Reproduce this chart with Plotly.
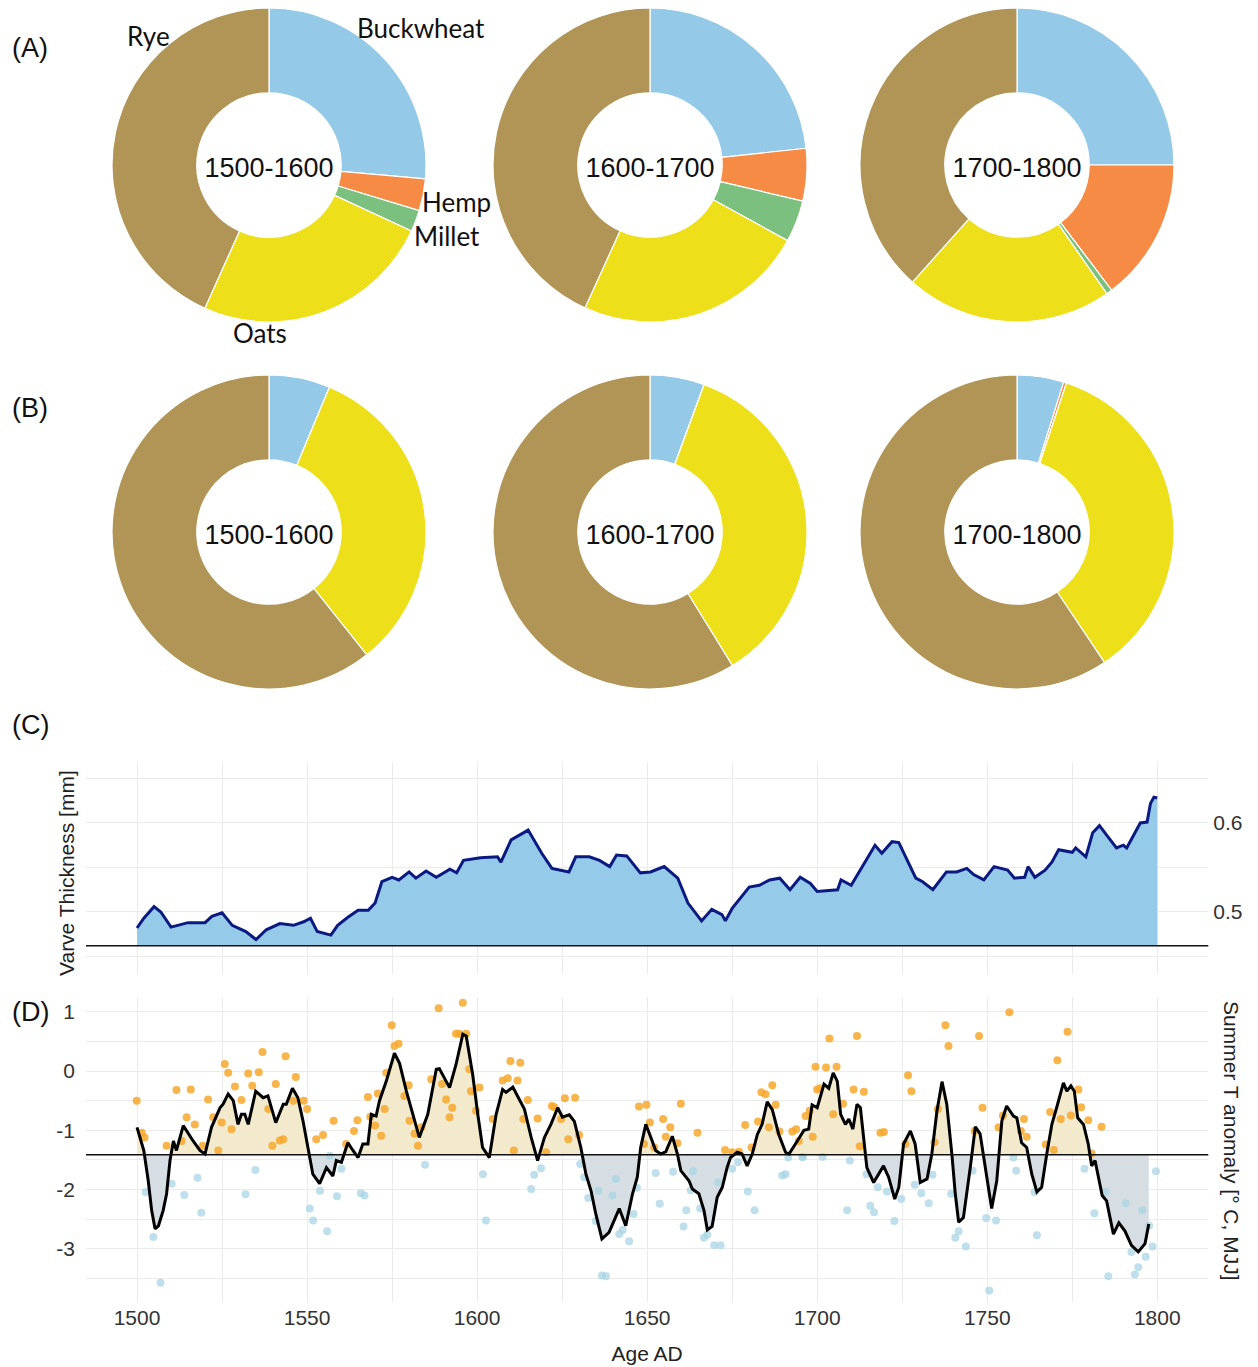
import plotly.graph_objects as go

W, H = 1258, 1367

# ---------------- data ----------------
crops = ["Buckwheat", "Hemp", "Millet", "Oats", "Rye"]
crop_colors = ["#94CAE7", "#F58B45", "#7CC07F", "#EEDF1B", "#B09557"]
periods = ["1500-1600", "1600-1700", "1700-1800"]

shares_A = [
    [26.4, 3.3, 2.2, 24.8, 43.3],
    [23.3, 5.4, 4.3, 23.8, 43.2],
    [25.0, 14.7, 0.6, 21.3, 38.4],
]
shares_B = [
    [6.3, 0.0, 0.0, 33.0, 60.7],
    [5.6, 0.0, 0.0, 35.6, 58.8],
    [4.8, 0.3, 0.0, 35.5, 59.4],
]

varve_years = [1500, 1502, 1505, 1507, 1510, 1515, 1520, 1522, 1525, 1528, 1532, 1535, 1538, 1542,
               1546, 1549, 1551, 1553, 1557, 1559, 1562, 1565, 1568, 1570, 1572, 1575, 1577, 1580,
               1582, 1585, 1588, 1592, 1594, 1596, 1601, 1606, 1607, 1610, 1615, 1619, 1622, 1627,
               1629, 1633, 1636, 1639, 1641, 1644, 1648, 1651, 1655, 1659, 1662, 1666, 1669, 1672,
               1673, 1675, 1680, 1683, 1686, 1689, 1692, 1695, 1698, 1700, 1706, 1707, 1710, 1713,
               1717, 1719, 1722, 1724, 1726, 1729, 1731, 1734, 1735, 1738, 1741, 1744, 1746, 1749,
               1752, 1756, 1758, 1761, 1762, 1764, 1767, 1769, 1771, 1775, 1776, 1779, 1781, 1783,
               1785, 1788, 1790, 1791, 1792, 1795, 1797, 1798, 1799, 1800]
varve_mm = [0.482, 0.493, 0.506, 0.500, 0.483, 0.488, 0.488, 0.495, 0.499, 0.485, 0.478, 0.469, 0.480, 0.487,
            0.485, 0.489, 0.493, 0.478, 0.474, 0.485, 0.494, 0.502, 0.502, 0.510, 0.534, 0.539, 0.536, 0.545,
            0.538, 0.546, 0.539, 0.548, 0.544, 0.558, 0.561, 0.562, 0.556, 0.581, 0.592, 0.566, 0.549, 0.545,
            0.562, 0.562, 0.558, 0.551, 0.564, 0.563, 0.544, 0.545, 0.551, 0.538, 0.510, 0.490, 0.503, 0.497,
            0.490, 0.504, 0.528, 0.530, 0.536, 0.538, 0.525, 0.539, 0.532, 0.523, 0.525, 0.536, 0.530, 0.549,
            0.575, 0.566, 0.579, 0.578, 0.562, 0.538, 0.534, 0.525, 0.530, 0.545, 0.545, 0.549, 0.542, 0.536,
            0.551, 0.547, 0.538, 0.539, 0.551, 0.539, 0.547, 0.556, 0.570, 0.567, 0.572, 0.562, 0.589, 0.597,
            0.587, 0.572, 0.575, 0.572, 0.579, 0.600, 0.601, 0.622, 0.629, 0.628]
varve_base = 0.462

smooth_years = [1500, 1501.4, 1502, 1503.3, 1504.3, 1505.3, 1506.3, 1507.7, 1508.7, 1509.7, 1510.7, 1511.6,
                1513.6, 1516.5, 1518.5, 1520, 1521.9, 1524.4, 1525.3, 1526.8, 1528.3, 1529.7, 1530.7, 1531.7,
                1532.7, 1534.9, 1537.1, 1538.5, 1540.8, 1543, 1543.9, 1545.7, 1547.3, 1548.8, 1550.3, 1551.7,
                1553.7, 1555.7, 1557.6, 1558.6, 1560.1, 1562, 1563.5, 1565, 1566.4, 1567.9, 1568.9, 1570.3,
                1571.3, 1573.3, 1575.7, 1577.2, 1579.2, 1581.1, 1583, 1585.5, 1588, 1588.9, 1591.9, 1593.8,
                1595.8, 1596.8, 1598.7, 1600.2, 1601.6, 1603.6, 1605.6, 1607.5, 1608.5, 1610.5, 1613.9, 1615.9,
                1617.8, 1619.8, 1621.7, 1623.7, 1625.1, 1627.1, 1628.6, 1630.5, 1632, 1633.5, 1634.9, 1636.7,
                1638.8, 1641.8, 1643.7, 1645.7, 1647.1, 1648.1, 1649.6, 1651.1, 1652.5, 1654, 1655.5, 1657.4,
                1658.9, 1659.9, 1662.3, 1663.3, 1665.2, 1666.7, 1667.7, 1669.1, 1670.6, 1672.1, 1673.5, 1674.5,
                1676.5, 1677.9, 1679.4, 1680.9, 1682.4, 1683.8, 1685.3, 1686.8, 1688.7, 1690.7, 1691.7, 1693.6,
                1696.1, 1697.5, 1698.5, 1700, 1702, 1703.4, 1704.7, 1705.9, 1706.9, 1708.3, 1709.3, 1710.5,
                1711.7, 1712.7, 1714.6, 1716.6, 1719.5, 1721, 1722.8, 1724, 1725.4, 1727.4, 1728.8, 1730.3,
                1732.3, 1733.7, 1735.2, 1736.7, 1738.1, 1739.6, 1740.6, 1741.6, 1743, 1745, 1746.5, 1747.9,
                1749.4, 1751.3, 1752.8, 1754.3, 1755.7, 1757.7, 1758.7, 1760.1, 1761.6, 1763.1, 1764.6, 1766,
                1767.5, 1769, 1770.4, 1772.4, 1773.4, 1774.6, 1775.6, 1776.6, 1778.3, 1779.7, 1780.7, 1781.7,
                1783.8, 1785.1, 1787.1, 1788.7, 1790.5, 1792.4, 1794.4, 1796.4, 1797.5]
smooth_T = [-0.95, -1.23, -1.34, -1.85, -2.35, -2.66, -2.61, -2.35, -2.07, -1.51, -1.18, -1.34,
            -0.92, -1.18, -1.34, -1.40, -0.95, -0.62, -0.56, -0.39, -0.50, -0.90, -0.73, -0.73,
            -0.90, -0.34, -0.45, -0.42, -0.87, -0.56, -0.56, -0.29, -0.45, -0.84, -1.34, -1.74,
            -1.90, -1.63, -1.77, -1.51, -1.54, -1.21, -1.34, -1.46, -1.23, -1.23, -0.73, -0.76,
            -0.50, -0.17, 0.30, 0.13, -0.34, -0.73, -1.12, -0.73, 0.03, 0.04, -0.28, 0.11,
            0.62, 0.59, -0.06, -0.73, -1.29, -1.46, -0.73, -0.31, -0.36, -0.27, -0.64, -1.12,
            -1.51, -1.12, -0.90, -0.62, -0.78, -0.74, -0.85, -1.29, -1.74, -2.02, -2.41, -2.83,
            -2.72, -2.32, -2.61, -2.07, -1.79, -1.29, -0.90, -1.12, -1.34, -1.40, -1.36, -1.10,
            -1.40, -1.68, -1.85, -1.99, -2.07, -2.35, -2.68, -2.62, -2.13, -1.96, -1.63, -1.46,
            -1.37, -1.40, -1.60, -1.40, -1.07, -0.90, -0.52, -0.65, -1.07, -1.37, -1.40, -1.23,
            -1.00, -0.98, -0.57, -0.62, -0.22, -0.29, -0.03, -0.17, -0.73, -0.90, -0.81, -0.98,
            -0.56, -0.62, -1.63, -1.88, -1.60, -1.79, -2.16, -1.96, -1.23, -1.01, -1.23, -1.88,
            -1.82, -1.40, -0.68, -0.18, -0.56, -1.40, -2.07, -2.55, -2.47, -1.63, -0.94, -1.06,
            -1.63, -2.32, -1.85, -0.84, -0.59, -0.76, -0.79, -1.21, -1.29, -1.74, -2.04, -1.96,
            -1.40, -0.90, -0.62, -0.20, -0.34, -0.25, -0.34, -0.79, -0.90, -1.23, -1.60, -1.51,
            -2.10, -2.19, -2.75, -2.56, -2.70, -2.94, -3.05, -2.91, -2.58]
T_base = -1.41

annual_years = [1499.9, 1501.4, 1502.2, 1508.7, 1511.6, 1513.1, 1514.6, 1515.8, 1517.0, 1519.3, 1520.9,
                1522.4, 1523.9, 1524.9, 1525.8, 1526.8, 1527.8, 1528.8, 1530.7, 1532.7, 1533.9, 1535.8,
                1536.9, 1538.6, 1539.8, 1540.8, 1542.0, 1543.0, 1543.7, 1546.7, 1545.9, 1549.0, 1550.0,
                1552.7, 1554.7, 1557.8, 1561.5, 1563.8, 1564.8, 1567.9, 1568.6, 1570.0, 1570.8, 1571.8,
                1572.8, 1573.3, 1574.9, 1575.7, 1576.9, 1578.6, 1579.9, 1580.1, 1581.6, 1582.6,
                1583.6, 1586.5, 1588.7, 1589.7, 1590.9, 1591.9, 1592.7, 1593.8, 1594.8, 1595.8, 1596.8,
                1597.7, 1598.2, 1600.7, 1599.7, 1604.6, 1607.5, 1609.0, 1609.8, 1611.9, 1612.7, 1610.8,
                1614.9, 1613.6, 1617.8, 1620.3, 1622.0, 1622.7, 1624.7, 1625.8, 1626.8, 1628.8, 1630.0,
                1647.6, 1649.8, 1649.1, 1650.8, 1652.1, 1654.7, 1656.8, 1655.5, 1658.9, 1659.9, 1664.8,
                1672.9, 1675.0, 1677.0, 1678.8, 1680.7, 1682.6, 1683.6, 1684.8, 1686.8, 1685.8, 1687.8,
                1688.9, 1692.7, 1693.8, 1694.6, 1696.6, 1697.8, 1699.5, 1700.0,
                1702.6, 1703.6, 1705.7, 1700.8, 1698.7, 1704.7, 1707.6, 1710.7, 1711.7, 1713.7, 1712.5,
                1718.6, 1719.6, 1726.7, 1727.7, 1725.9, 1734.5, 1735.5, 1737.7, 1738.6, 1747.6, 1748.6,
                1746.3, 1753.3, 1754.6, 1756.5, 1759.9, 1760.8, 1761.6, 1767.2, 1768.5, 1769.6, 1770.6,
                1771.6, 1773.6, 1774.6, 1776.8, 1777.6, 1779.7, 1783.6, 1780.7,
                # cold years
                1502.5, 1504.8, 1506.9, 1510.2, 1513.9, 1517.8, 1518.9, 1531.9, 1534.8, 1550.8, 1551.8,
                1553.8, 1555.9, 1556.7, 1558.8, 1560.1, 1565.8, 1566.9,
                1584.7, 1601.7, 1602.6, 1615.9, 1616.8, 1618.8, 1630.3, 1631.5, 1632.7, 1634.9, 1635.7,
                1636.7, 1637.9, 1639.8, 1640.8, 1641.8, 1642.8, 1644.7, 1646.0, 1647.0, 1652.5, 1653.7,
                1657.6, 1660.7, 1661.5, 1662.8, 1663.5, 1665.6, 1666.7, 1667.7, 1669.7, 1671.6, 1670.9,
                1675.0, 1676.7, 1679.6, 1681.6, 1689.7, 1690.7, 1691.5, 1695.6,
                1695.8, 1701.6, 1709.6, 1708.8, 1714.5, 1715.6, 1716.7, 1717.8, 1720.5, 1722.7, 1724.7,
                1728.7, 1730.6, 1732.8, 1733.9, 1739.4, 1740.6, 1741.6, 1743.7, 1745.7, 1749.7, 1750.6,
                1752.6, 1757.7, 1758.5, 1763.9, 1764.6, 1778.6, 1781.5, 1784.8, 1785.6, 1790.7, 1792.4,
                1793.4, 1794.4, 1795.6, 1796.6, 1797.6, 1798.6, 1799.6]
annual_T = [-0.50, -1.04, -1.12, -1.26, -0.32, -1.18, -0.78, -0.31, -0.90, -1.26, -0.48,
            -0.78, -1.34, -0.87, 0.12, -0.03, -0.98, -0.26, -0.49, -0.04, -0.25, -0.02,
            0.32, -0.64, -1.26, -0.22, -1.17, -1.15, 0.25, -0.10, -0.50, -0.50, -0.64,
            -1.15, -1.08, -0.84, -1.23, -1.01, -0.83, -0.44, -0.77, -0.92, -0.38, -1.09,
            -0.64, -0.03, 0.77, 0.42, 0.46, -0.42, -0.24, -0.84, -1.06, -1.26,
            -0.95, -0.14, 1.06, -0.22, -0.48, -0.78, -0.62, 0.63, 0.63, 1.15, 0.63,
            0.03, -0.34, -0.28, -0.67, -0.81, -0.16, -0.12, 0.17, -0.16, 0.14, -1.34,
            -0.49, -0.81, -0.80, -1.37, -0.59, -0.61, -0.81, -0.46, -1.15, -0.45, -1.08,
            -0.60, -0.57, -1.23, -0.87, -1.29, -0.81, -0.95, -1.11, -1.22, -0.55, -1.04,
            -1.33, -1.37, -1.36, -0.91, -1.29, -0.85, -0.36, -0.39, -0.24, -0.95, -0.57,
            -1.02, -1.02, -0.98, -1.18, -0.76, -0.67, 0.07, -0.31,
            0.06, 0.55, 0.07, -0.29, -1.11, -0.73, -0.55, -0.31, 0.59, -0.35, -1.27,
            -1.04, -1.03, -0.07, -0.34, -1.23, -1.20, -0.64, 0.77, 0.42, 0.59, -0.62,
            -1.01, -0.95, -0.75, 0.99, -1.01, -0.81, -1.11, -1.24, -0.69, -1.33, 0.18,
            -0.81, 0.66, -0.75, -0.31, -0.61, -0.83, -0.94, -1.39,
            -2.04, -2.80, -3.57, -1.90, -2.09, -1.80, -2.39, -2.08, -1.67, -2.32, -2.52,
            -2.02, -2.70, -1.43, -2.11, -1.65, -2.06, -2.10,
            -1.58, -1.74, -2.52, -1.99, -1.75, -1.64, -1.57, -1.79, -2.14, -2.53, -2.02,
            -3.45, -3.46, -2.10, -1.82, -2.75, -2.68, -2.87, -2.41, -1.97, -1.72, -2.24,
            -1.70, -2.62, -2.35, -2.01, -1.69, -2.32, -2.81, -2.76, -2.94, -2.94, -1.88,
            -1.65, -1.54, -2.03, -2.35, -1.76, -1.74, -1.46, -1.45,
            -1.45, -1.45, -1.51, -2.35, -1.74, -2.27, -2.38, -1.96, -2.03, -2.53, -2.16,
            -1.92, -2.06, -2.23, -1.75, -2.07, -2.81, -2.70, -2.96, -1.68, -2.48, -3.70,
            -2.52, -1.46, -1.68, -2.04, -2.77, -1.65, -2.40, -2.04, -3.46, -2.23, -3.05,
            -3.43, -3.31, -2.35, -3.13, -2.61, -2.96, -1.69]

x_ticks = [1500, 1550, 1600, 1650, 1700, 1750, 1800]

# ---------------- helpers ----------------
OFF = 8  # page body margin in the browser

def px(x):
    return (x - OFF) / W

def py(y):
    return 1 - (y - OFF) / H

FONT = "Liberation Sans, Arial, sans-serif"
LBL = "Lato, Carlito, Calibri, sans-serif"

fig = go.Figure()

# ---------------- pies ----------------
pie_centers_x = [269, 650, 1017]
rows = [(shares_A, 165), (shares_B, 532)]
R = 157
for shares, cy in rows:
    for i, vals in enumerate(shares):
        cx = pie_centers_x[i]
        fig.add_trace(go.Pie(
            labels=crops, values=vals, hole=0.46, sort=False, direction="clockwise", rotation=0,
            marker=dict(colors=crop_colors, line=dict(color="white", width=1.2)),
            textinfo="none", hoverinfo="label+percent", showlegend=False,
            domain=dict(x=[px(cx - R), px(cx + R)], y=[py(cy + R), py(cy - R)]),
            title=dict(text=periods[i], position="middle center",
                       font=dict(family=FONT, size=27, color="#111111")),
        ))

# ---------------- panel C ----------------
fig.add_trace(go.Scatter(x=[varve_years[0], varve_years[-1]], y=[varve_base, varve_base],
                         mode="lines", line=dict(width=0), showlegend=False, hoverinfo="skip",
                         xaxis="x", yaxis="y"))
fig.add_trace(go.Scatter(x=varve_years, y=varve_mm, mode="lines", fill="tonexty",
                         fillcolor="#95CAE8", line=dict(color="#0B1A80", width=3),
                         showlegend=False, xaxis="x", yaxis="y"))

# ---------------- panel D fills ----------------
def clipped(years, vals, base, above):
    xs, ys = [], []
    for k in range(len(years)):
        if k > 0:
            v0, v1 = vals[k - 1], vals[k]
            if (v0 - base) * (v1 - base) < 0:
                t = (base - v0) / (v1 - v0)
                xs.append(years[k - 1] + t * (years[k] - years[k - 1]))
                ys.append(base)
        v = vals[k]
        xs.append(years[k])
        ys.append(max(v, base) if above else min(v, base))
    return xs, ys

for above, col in [(True, "#F3E9CD"), (False, "#D6DEE4")]:
    xs, ys = clipped(smooth_years, smooth_T, T_base, above)
    fig.add_trace(go.Scatter(x=[xs[0], xs[-1]], y=[T_base, T_base], mode="lines",
                             line=dict(width=0), showlegend=False, hoverinfo="skip",
                             xaxis="x2", yaxis="y2"))
    fig.add_trace(go.Scatter(x=xs, y=ys, mode="lines", fill="tonexty", fillcolor=col,
                             line=dict(width=0), showlegend=False, hoverinfo="skip",
                             xaxis="x2", yaxis="y2"))

warm_x = [a for a, b in zip(annual_years, annual_T) if b >= T_base]
warm_y = [b for b in annual_T if b >= T_base]
cold_x = [a for a, b in zip(annual_years, annual_T) if b < T_base]
cold_y = [b for b in annual_T if b < T_base]
fig.add_trace(go.Scatter(x=cold_x, y=cold_y, mode="markers",
                         marker=dict(size=8, color="rgba(168,212,228,0.75)"),
                         showlegend=False, xaxis="x2", yaxis="y2"))
fig.add_trace(go.Scatter(x=warm_x, y=warm_y, mode="markers",
                         marker=dict(size=8, color="rgba(247,168,45,0.85)"),
                         showlegend=False, xaxis="x2", yaxis="y2"))
fig.add_trace(go.Scatter(x=smooth_years, y=smooth_T, mode="lines",
                         line=dict(color="black", width=3), showlegend=False,
                         xaxis="x2", yaxis="y2"))

# ---------------- axes ----------------
xdom = [px(86), px(1208.3)]
grid = "#EBEBEB"
xcommon = dict(domain=xdom, range=[1485, 1815], tickvals=x_ticks, showgrid=True, gridcolor=grid,
               gridwidth=1, zeroline=False, showline=False, ticks="",
               minor=dict(dtick=25, tick0=1500, showgrid=True, gridcolor=grid, gridwidth=1))

fig.update_layout(
    width=W, height=H, margin=dict(l=0, r=0, t=0, b=0),
    paper_bgcolor="white", plot_bgcolor="white",
    xaxis=dict(**xcommon, anchor="y", showticklabels=False),
    yaxis=dict(domain=[py(975), py(762)], range=[0.4292, 0.6685], side="right", anchor="x",
               tickvals=[0.5, 0.6], ticktext=["0.5", "0.6"], showgrid=True, gridcolor=grid,
               zeroline=False, ticks="", ticklabelstandoff=4,
               tickfont=dict(family=FONT, size=21, color="#333333"),
               minor=dict(dtick=0.05, tick0=0.45, showgrid=True, gridcolor=grid)),
    xaxis2=dict(**xcommon, anchor="y2", showticklabels=True,
                tickfont=dict(family=FONT, size=21, color="#333333"),
                title=dict(text="Age AD", font=dict(family=FONT, size=21, color="#222222"),
                           standoff=18)),
    yaxis2=dict(domain=[py(1303), py(997)], range=[-3.912, 1.248], anchor="x2",
                tickvals=[-3, -2, -1, 0, 1], ticktext=["-3", "-2", "-1", "0", "1"],
                showgrid=True, gridcolor=grid, zeroline=False, ticks="", ticklabelstandoff=10,
                tickfont=dict(family=FONT, size=21, color="#333333"),
                minor=dict(dtick=0.5, tick0=-3.5, showgrid=True, gridcolor=grid)),
)

fig.add_shape(type="line", xref="x domain", yref="y", x0=0, x1=1, y0=varve_base, y1=varve_base,
              line=dict(color="#111111", width=1.5))
fig.add_shape(type="line", xref="x2 domain", yref="y2", x0=0, x1=1, y0=T_base, y1=T_base,
              line=dict(color="#111111", width=1.5))

# ---------------- annotations ----------------
def ann(text, x, y, size, family=FONT, angle=0, color="#111111"):
    fig.add_annotation(text=text, x=px(x), y=py(y), xref="paper", yref="paper", showarrow=False,
                       xanchor="center", yanchor="middle", textangle=angle,
                       font=dict(family=family, size=size, color=color))

for t, y in [("(A)", 48), ("(B)", 408), ("(C)", 725), ("(D)", 1012)]:
    ann(t, 30, y, 27)

ann("Rye", 148, 36, 26, LBL)
ann("Buckwheat", 421, 28, 26, LBL)
ann("Hemp", 457, 202, 26, LBL)
ann("Millet", 447, 236, 26, LBL)
ann("Oats", 260, 333, 26, LBL)

ann("Varve Thickness [mm]", 67, 873, 21, angle=-90, color="#222222")
ann("Summer T anomaly [° C, MJJ]", 1232, 1141, 21, angle=90, color="#222222")

fig.write_html("out.html")
